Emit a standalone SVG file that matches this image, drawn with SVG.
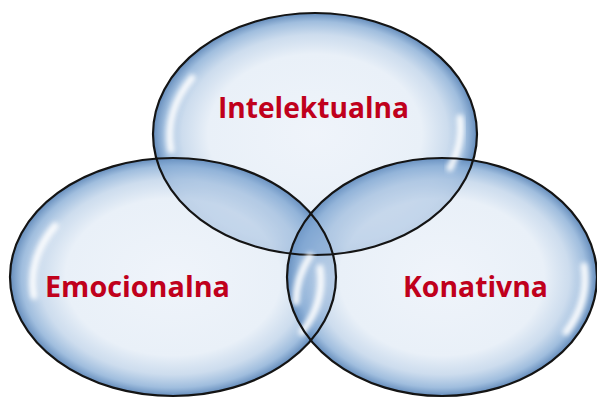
<svg xmlns="http://www.w3.org/2000/svg" width="597" height="398" viewBox="0 0 597 398">
  <defs>
    <!-- bubble body: pale centre, blue rim -->
    <radialGradient id="bubble" cx="0.5" cy="0.5" r="0.5">
      <stop offset="0" stop-color="#eef3fa" stop-opacity="0.92"/>
      <stop offset="0.66" stop-color="#e6eef7" stop-opacity="0.88"/>
      <stop offset="0.82" stop-color="#c2d5ea" stop-opacity="0.82"/>
      <stop offset="0.93" stop-color="#8fb2d8" stop-opacity="0.85"/>
      <stop offset="1" stop-color="#5c86b8" stop-opacity="0.95"/>
    </radialGradient>
    <filter id="soft" x="-50%" y="-50%" width="200%" height="200%">
      <feGaussianBlur stdDeviation="2.6"/>
    </filter>
    <clipPath id="inLeft"><ellipse cx="173" cy="277" rx="163" ry="119"/></clipPath>
    <clipPath id="inRight"><ellipse cx="442" cy="277" rx="155" ry="119"/></clipPath>
  </defs>
  <style>
    .body { fill: url(#bubble); }
    .lens { fill: #7aa3d0; opacity: 0.28; }
    .rim { fill: none; stroke: #141414; stroke-width: 2.2; }
    .gloss { fill: none; stroke: #ffffff; stroke-width: 7; stroke-linecap: round; opacity: 0.95; filter: url(#soft); }
    .label { font-family: "Open Sans", "Liberation Sans", sans-serif; font-weight: bold; font-size: 29px; fill: #c0001c; }
  </style>

  <rect width="597" height="398" fill="#ffffff"/>

  <!-- translucent bodies -->
  <g id="bodies">
    <ellipse class="body" cx="315" cy="134" rx="162" ry="121"/>
    <ellipse class="body" cx="173" cy="277" rx="163" ry="119"/>
    <ellipse class="body" cx="442" cy="277" rx="155" ry="119"/>
  </g>

  <!-- deeper tint where bubbles overlap -->
  <g id="overlaps">
    <ellipse class="lens" cx="315" cy="134" rx="162" ry="121" clip-path="url(#inLeft)"/>
    <ellipse class="lens" cx="315" cy="134" rx="162" ry="121" clip-path="url(#inRight)"/>
    <ellipse class="lens" cx="173" cy="277" rx="163" ry="119" clip-path="url(#inRight)"/>
  </g>

  <g id="intelektualna">
    <path class="gloss" d="M192,78 A146,109 0 0 0 171,150"/>
    <path class="gloss" d="M460,118 A146,109 0 0 1 450,168"/>
    <ellipse class="rim" cx="315" cy="134" rx="162" ry="121"/>
    <text class="label" x="218" y="118" textLength="191" lengthAdjust="spacingAndGlyphs">Intelektualna</text>
  </g>

  <g id="emocionalna">
    <path class="gloss" d="M55,226 A147,107 0 0 0 34,296"/>
    <path class="gloss" d="M320,268 A147,107 0 0 1 302,332"/>
    <ellipse class="rim" cx="173" cy="277" rx="163" ry="119"/>
    <text class="label" x="45" y="297" textLength="185" lengthAdjust="spacingAndGlyphs">Emocionalna</text>
  </g>

  <g id="konativna">
    <path class="gloss" d="M310,256 A140,107 0 0 0 296,302"/>
    <path class="gloss" d="M584,266 A140,107 0 0 1 566,332"/>
    <ellipse class="rim" cx="442" cy="277" rx="155" ry="119"/>
    <text class="label" x="403" y="297" textLength="145" lengthAdjust="spacingAndGlyphs">Konativna</text>
  </g>
</svg>
